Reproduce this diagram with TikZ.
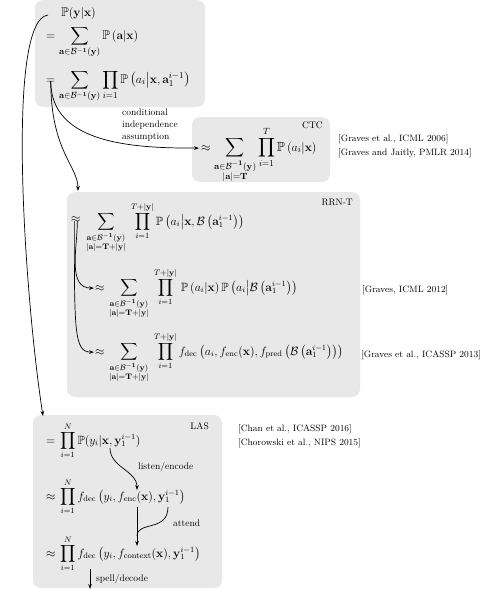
\documentclass[tikz,border=0pt]{standalone}
\usepackage{amsmath,amssymb}
\usetikzlibrary{arrows.meta}
\newcommand{\bsubA}{\mathbf{a}\in\mathcal{B}^{\mathbf{-1}}(\mathbf{y})}
\newcommand{\bsubT}{\substack{\mathbf{a}\in\mathcal{B}^{\mathbf{-1}}(\mathbf{y})\\|\mathbf{a}|=\mathbf{T}+|\mathbf{y}|}}
\begin{document}
\begin{tikzpicture}[x=1pt,y=-1pt,
  box/.style={fill=black!9, rounded corners=8pt},
  eq/.style={inner sep=0pt, anchor=base west, font=\fontsize{12}{14}\selectfont},
  eqbig/.style={eq, font=\fontsize{12.6}{15}\selectfont},
  eqctc/.style={eq, font=\fontsize{13.2}{16}\selectfont},
  lbl/.style={inner sep=0pt, anchor=base west, font=\fontsize{9.5}{12}\selectfont},
  cite/.style={inner sep=0pt, anchor=base west, font=\fontsize{9.2}{12}\selectfont},
  arr/.style={-{Stealth[length=5pt,width=3.6pt]}, line width=0.7pt},
]
\useasboundingbox (0,0) rectangle (480,589);
% boxes
\path[box] (35,0) rectangle (205,107);
\path[box] (192,117) rectangle (330,182);
\path[box] (67,192) rectangle (360,397);
\path[box] (33,415) rectangle (222,588);

% top box
\node[eqbig] (t1) at (61,16.5) {$\mathbb{P}(\mathbf{y}|\mathbf{x})$};
\node[eqbig] (t2eq) at (46,39) {$=$};
\node[eqbig] (t2) at (59,39) {$\displaystyle \sum_{\bsubA} \mathbb{P}\left(\mathbf{a}|\mathbf{x}\right)$};
\node[eqbig] (t3eq) at (46,83) {$=$};
\node[eqbig] (t3) at (59,83) {$\displaystyle \sum_{\bsubA} \prod_{i=1} \mathbb{P}\left(a_i\middle|\mathbf{x},\mathbf{a}_1^{i-1}\right)$};

% CTC
\node[lbl, anchor=base east] (ctclbl) at (323,128) {CTC};
\node[eqctc] (ctceq) at (201,151) {$\approx$};
\node[eqctc] (ctc) at (214,151) {$\displaystyle \sum_{\substack{\bsubA\\|\mathbf{a}|=\mathbf{T}}} \prod_{i=1}^{T} \mathbb{P}\left(a_i\middle|\mathbf{x}\right)$};
\node[cite] (c1) at (338,141) {[Graves et al., ICML 2006]};
\node[cite] (c2) at (338,155) {[Graves and Jaitly, PMLR 2014]};
\node[lbl, anchor=north west, align=left, font=\fontsize{9.5}{12}\selectfont] (cia) at (122,109) {conditional\\independence\\assumption};

% RRN-T
\node[lbl, anchor=base east] (rnnlbl) at (353,205) {RRN-T};
\node[eq] (r1eq) at (71,222) {$\approx$};
\node[eq] (r1) at (86,225) {$\displaystyle \sum_{\bsubT}\; \prod_{i=1}^{T+|\mathbf{y}|} \mathbb{P}\left(a_i\middle|\mathbf{x},\mathcal{B}\left(\mathbf{a}_1^{i-1}\right)\right)$};
\node[eq] (r2eq) at (95,291) {$\approx$};
\node[eq] (r2) at (109,291) {$\displaystyle \sum_{\bsubT}\; \prod_{i=1}^{T+|\mathbf{y}|}\, \mathbb{P}\left(a_i\middle|\mathbf{x}\right)\mathbb{P}\left(a_i\middle|\mathcal{B}\left(\mathbf{a}_1^{i-1}\right)\right)$};
\node[eq] (r3eq) at (95,355) {$\approx$};
\node[eq] (r3) at (109,355) {$\displaystyle \sum_{\bsubT}\; \prod_{i=1}^{T+|\mathbf{y}|} f_{\mathrm{dec}}\left(a_i, f_{\mathrm{enc}}(\mathbf{x}), f_{\mathrm{pred}}\left(\mathcal{B}\left(\mathbf{a}_1^{i-1}\right)\right)\right)$};
\node[cite] (c3) at (362,292) {[Graves, ICML 2012]};
\node[cite] (c4) at (361,357) {[Graves et al., ICASSP 2013]};

% LAS
\node[lbl, anchor=base east] (laslbl) at (209,429) {LAS};
\node[eq] (l1eq) at (46,444) {$=$};
\node[eq] (l1) at (60,444) {$\displaystyle \prod_{i=1}^{N}\mathbb{P}(y_i|\mathbf{x},\mathbf{y}_1^{i-1})$};
\node[eq] (l2eq) at (46,500) {$\approx$};
\node[eq] (l2) at (60,500) {$\displaystyle \prod_{i=1}^{N} f_{\mathrm{dec}}\left(y_i, f_{\mathrm{enc}}(\mathbf{x}), \mathbf{y}_1^{i-1}\right)$};
\node[eq] (l3eq) at (46,557) {$\approx$};
\node[eq] (l3) at (60,557) {$\displaystyle \prod_{i=1}^{N} f_{\mathrm{dec}}\left(y_i, f_{\mathrm{context}}(\mathbf{x}), \mathbf{y}_1^{i-1}\right)$};
\node[cite] (c5) at (238,431) {[Chan et al., ICASSP 2016]};
\node[cite] (c6) at (238,445) {[Chorowski et al., NIPS 2015]};
\node[lbl] (lenc) at (138,469) {listen/encode};
\node[lbl] (latt) at (173,526) {attend};
\node[lbl] (ldec) at (96,581) {spell/decode};

% coordinates
\coordinate (bigstart) at (48,15);
\coordinate (lasin) at (43,416);
\coordinate (rnnin) at (78,191);
\coordinate (encsrc) at (110,448);
\coordinate (enctgt) at (137,490);
\coordinate (attA) at (137,507);
\coordinate (attB) at (168,507);
\coordinate (attjoin) at (137,536);
\coordinate (atttgt) at (137,546);
\coordinate (decsrc) at (90,569);
\coordinate (dectgt) at (90,589);

% connectors
\draw[arr] (bigstart) .. controls (5,20) and (25,300) .. (lasin);
\draw[arr] ([yshift=2pt]t3eq.south) to[out=-90,in=180] ([xshift=-2pt]ctceq.west);
\draw[arr] ([yshift=2pt]t3eq.south) .. controls +(0,70) and +(0,-25) .. (rnnin);
\draw[arr] ([xshift=1.5pt,yshift=1pt]r1eq.south) to[out=-90,in=180] ([xshift=-1pt]r2eq.west);
\draw[arr] ([xshift=-1.5pt,yshift=1pt]r1eq.south) .. controls +(0,110) and +(-20,0) .. ([xshift=-1pt]r3eq.west);
\draw[arr] (encsrc) to[out=-90,in=90] (enctgt);
\draw[arr] (attA) -- (atttgt);
\draw[line width=0.7pt] (attB) .. controls +(0,25) and +(0,-15) .. (attjoin);
\draw[arr] (decsrc) -- (dectgt);
\end{tikzpicture}
\end{document}
